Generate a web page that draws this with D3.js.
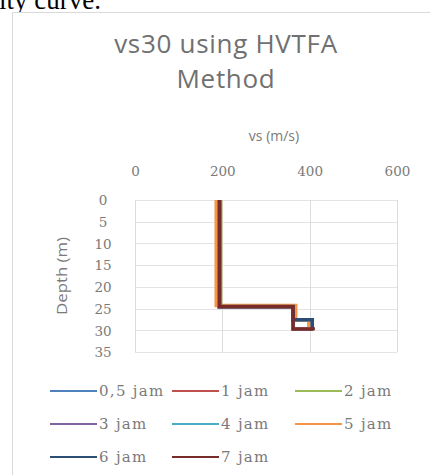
<!DOCTYPE html>
<meta charset="utf-8">
<style>
  body { margin: 0; background: #fff; overflow: hidden; }
  .title { font-family: "Open Sans", sans-serif; fill: #707070; letter-spacing: 0.7px; }
  .axis-title { font-family: "Open Sans", sans-serif; font-size: 14px; fill: #7a7a7a; }
  .tick text { font-family: "DejaVu Serif", serif; font-size: 13.5px; fill: #7a7a7a; }
  .legend text { font-family: "DejaVu Serif", serif; font-size: 15px; letter-spacing: 1.3px; fill: #7a7a7a; }
</style>
<body>
<script src="https://d3js.org/d3.v7.min.js"></script>
<script>
// series and their layer values (velocity in m/s, layer bottom depth in m)
const seriesNames  = ["0,5 jam", "1 jam", "2 jam", "3 jam", "4 jam", "5 jam", "6 jam", "7 jam"];
const seriesColors = ["#4F81BD", "#C0504D", "#9BBB59", "#8064A2", "#4BACC6", "#F79646", "#2C4D75", "#772C2A"];
const vsLayer1 = [192, 192, 196, 192, 192, 186, 193, 194];
const vsLayer2 = [362, 362, 365, 362, 362, 368, 362, 362];
const vsLayer3 = [405, 405, 400, 405, 405, 398, 406, 408];
const bottom1  = [24.5, 24.5, 24.5, 24.5, 24.5, 24.3, 24.5, 24.6];
const bottom2  = [27.6, 27.6, 27.6, 29.7, 27.6, 27.6, 27.6, 29.7];
const bottom3  = [30, 30, 30, 30, 30, 30, 30, 30];
const xTicks = [0, 200, 400, 600];
const yTicks = [0, 5, 10, 15, 20, 25, 30, 35];

const W = 430, H = 475;
const svg = d3.select("body").append("svg").attr("width", W).attr("height", H);

// bit of page text above the chart
svg.append("text")
   .attr("x", -1).attr("y", 9)
   .style("font-family", "'Liberation Serif', serif")
   .style("font-size", "27px")
   .attr("fill", "#000")
   .text("ity curve.");

// chart frame
svg.append("rect")
   .attr("x", 12.5).attr("y", 12.5)
   .attr("width", 440).attr("height", 480)
   .attr("fill", "#fff")
   .attr("stroke", "#d9d9d9");

const title = svg.append("text").attr("class", "title")
   .attr("text-anchor", "middle")
   .style("font-size", "26px");
title.append("tspan").attr("x", 226).attr("y", 53).text("vs30 using HVTFA");
title.append("tspan").attr("x", 226).attr("y", 88).text("Method");

const x = d3.scaleLinear().domain([0, 600]).range([135, 397]);
const y = d3.scaleLinear().domain([0, 35]).range([200, 352]);

// gridlines
svg.append("g").selectAll("line")
   .data(yTicks).enter().append("line")
   .attr("x1", x(0)).attr("x2", x(600))
   .attr("y1", d => Math.round(y(d)) + 0.5).attr("y2", d => Math.round(y(d)) + 0.5)
   .attr("stroke", "#e3e3e3");
svg.append("g").selectAll("line")
   .data(xTicks).enter().append("line")
   .attr("x1", d => Math.round(x(d)) + 0.5).attr("x2", d => Math.round(x(d)) + 0.5)
   .attr("y1", y(0)).attr("y2", y(35))
   .attr("stroke", "#dcdcdc");

// top axis
const xAxis = svg.append("g")
   .attr("transform", "translate(0,176)")
   .call(d3.axisTop(x).tickValues(xTicks).tickSize(0).tickPadding(0));
xAxis.select(".domain").remove();

const yAxis = svg.append("g")
   .attr("transform", "translate(103,0)")
   .call(d3.axisLeft(y).tickValues(yTicks).tickSize(0).tickPadding(0));
yAxis.select(".domain").remove();
yAxis.selectAll("text").attr("text-anchor", "middle").attr("dy", "0.35em");

svg.append("text").attr("class", "axis-title")
   .attr("x", 274).attr("y", 141).attr("text-anchor", "middle")
   .text("vs (m/s)");
svg.append("text").attr("class", "axis-title")
   .attr("transform", "translate(67,276) scale(1,1.2) rotate(-90)")
   .attr("text-anchor", "middle")
   .text("Depth (m)");

// step profiles
const line = d3.line().x(d => x(d[0])).y(d => y(d[1]));
const profiles = seriesNames.map((name, i) => [
  [vsLayer1[i], 0], [vsLayer1[i], bottom1[i]],
  [vsLayer2[i], bottom1[i]], [vsLayer2[i], bottom2[i]],
  [vsLayer3[i], bottom2[i]], [vsLayer3[i], bottom3[i]]
]);

svg.append("g").selectAll("path")
   .data(profiles).enter().append("path")
   .attr("d", line)
   .attr("fill", "none")
   .attr("stroke", (d, i) => seriesColors[i])
   .attr("stroke-width", 3.5)
   .attr("stroke-linejoin", "miter");

// legend
const legendCols = [50, 172, 295];
const legendRows = [391, 424, 457];
const legend = svg.append("g").attr("class", "legend")
   .selectAll("g").data(seriesNames).enter().append("g")
   .attr("transform", (d, i) => `translate(${legendCols[i % 3]},${legendRows[Math.floor(i / 3)]})`);
legend.append("line")
   .attr("x1", 0).attr("x2", 47)
   .attr("stroke", (d, i) => seriesColors[i])
   .attr("stroke-width", 2);
legend.append("text")
   .attr("x", 49).attr("dy", "0.35em")
   .text(d => d);
</script>
</body>
